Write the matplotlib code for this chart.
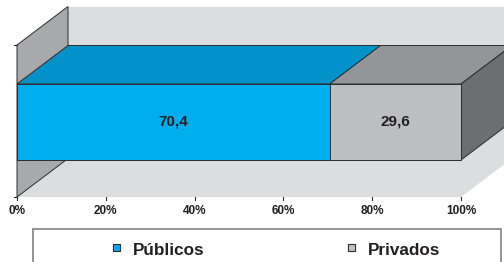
import numpy as np
import matplotlib
matplotlib.use('Agg')
import matplotlib.pyplot as plt
from matplotlib.patches import Polygon, Rectangle

# Dados
categorias = ['Públicos', 'Privados']
valores = [70.4, 29.6]
etiquetas = ['70,4', '29,6']
ticks = [0, 20, 40, 60, 80, 100]
tick_labels = ['0%', '20%', '40%', '60%', '80%', '100%']

# Cores (frente, topo, lado)
cores_frente = ['#00AEEF', '#BCBEC0']
cores_topo = ['#0092C8', '#939598']
cores_lado = ['#0077A8', '#6D6E71']
cor_parede = '#DCDDDF'
cor_lateral = '#A7A9AC'
cor_borda = '#2E2B2C'

plt.rcParams['font.family'] = ['Liberation Sans', 'DejaVu Sans']

W, H = 504, 262
fig = plt.figure(figsize=(W / 100, H / 100), dpi=100)
ax = fig.add_axes([0, 0, 1, 1])
ax.axis('off')

# escala: 0% em x=17px, 100% em x=461px ; eixo y em pixels a partir de baixo
esc = (461 - 17) / 100
ax.set_xlim(-17 / esc, (W - 17) / esc)
ax.set_ylim(0, H)

# profundidade 3D
dx = 51 / esc
dy = 38.5

chao = 65            # borda da frente do chao
topo_parede = 217    # topo da parede lateral (frente)
barra_base = 102
barra_topo = 178


def poly(pts, fc, ec='none', lw=0.7, z=1):
    ax.add_patch(Polygon(pts, closed=True, facecolor=fc, edgecolor=ec,
                         linewidth=lw, zorder=z, joinstyle='miter'))


# parede do fundo
poly([(dx, chao + dy), (100 + dx, chao + dy), (100 + dx, topo_parede + dy),
      (dx, topo_parede + dy)], cor_parede, z=1)
# chao
poly([(0, chao), (100, chao), (100 + dx, chao + dy), (dx, chao + dy)], cor_parede, z=1)
# parede lateral esquerda
poly([(0, chao), (0, topo_parede), (dx, topo_parede + dy), (dx, chao + dy)],
     cor_lateral, ec=cor_borda, z=2)

# barras empilhadas
esquerda = np.concatenate([[0], np.cumsum(valores)[:-1]])
for i, (v, e) in enumerate(zip(valores, esquerda)):
    x0, x1 = e, e + v
    # topo
    poly([(x0, barra_topo), (x1, barra_topo), (x1 + dx, barra_topo + dy),
          (x0 + dx, barra_topo + dy)], cores_topo[i], ec=cor_borda, z=3)
    # frente
    poly([(x0, barra_base), (x1, barra_base), (x1, barra_topo), (x0, barra_topo)],
         cores_frente[i], ec=cor_borda, z=4)
    # lado direito (so o ultimo fica visivel)
    if i == len(valores) - 1:
        poly([(x1, barra_base), (x1 + dx, barra_base + dy), (x1 + dx, barra_topo + dy),
              (x1, barra_topo)], cores_lado[i], ec=cor_borda, z=3)
    ax.text((x0 + x1) / 2, (barra_base + barra_topo) / 2 - 4, etiquetas[i],
            ha='center', va='baseline', fontsize=11, fontweight='bold',
            color='#231F20', zorder=5)

# marcas do eixo x
for t, lab in zip(ticks, tick_labels):
    ax.plot([t, t], [chao, chao - 3], color=cor_borda, lw=0.8, zorder=5)
    ax.text(t, 47.5, lab, ha='center', va='baseline', fontsize=8.5,
            fontweight='bold', color='#231F20')
# marcas do eixo vertical
for yy in [chao, topo_parede]:
    ax.plot([0, -3 / esc], [yy, yy], color=cor_borda, lw=0.8, zorder=5)

# legenda
fig.patches.append(Rectangle((33 / W, -0.2), (501 - 33) / W, 33 / H + 0.2,
                             transform=fig.transFigure, facecolor='white',
                             edgecolor='#8C8C8C', linewidth=1.3))
pos_marcador = [116, 351.5]
pos_texto = [133, 368]
for i, nome in enumerate(categorias):
    fig.patches.append(Rectangle(((pos_marcador[i] - 3.5) / W, (H - 251) / H), 7 / W, 7 / H,
                                 transform=fig.transFigure, facecolor=cores_frente[i],
                                 edgecolor=cor_borda, linewidth=0.8))
    fig.text(pos_texto[i] / W, 7 / H, nome, ha='left', va='baseline', fontsize=12.3,
             fontweight='bold', color='#231F20')

fig.savefig('out.png', dpi=100)
